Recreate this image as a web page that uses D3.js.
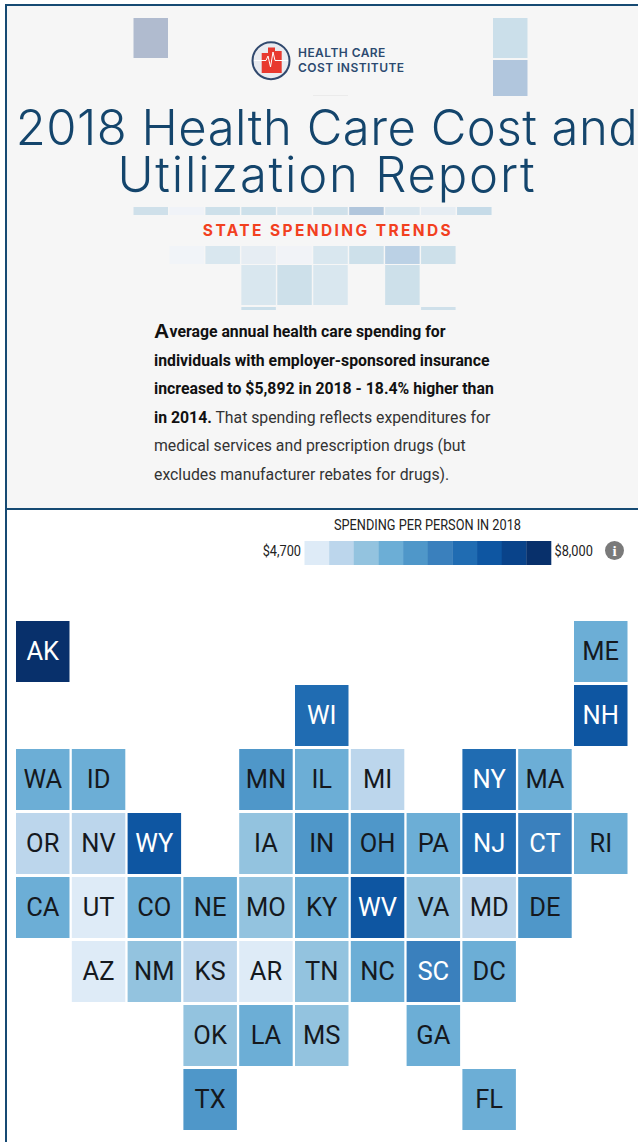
<!DOCTYPE html>
<html><head><meta charset="utf-8">
<script src="https://d3js.org/d3.v7.min.js"></script>
<style>html,body{margin:0;padding:0;background:#fff;overflow:hidden}svg{display:block}</style>
</head><body><svg id="c" width="638" height="1142"></svg>
<script>
const states=["AK","ME","WI","NH","WA","ID","MN","IL","MI","NY","MA","OR","NV","WY","IA","IN","OH","PA","NJ","CT","RI","CA","UT","CO","NE","MO","KY","WV","VA","MD","DE","AZ","NM","KS","AR","TN","NC","SC","DC","OK","LA","MS","GA","TX","FL"];
const spending=[7850,5850,6800,7150,5800,5780,6150,5830,5200,6750,5860,5150,5250,7200,5500,6200,6100,5880,6720,6500,5840,5820,4950,5800,5850,5520,5900,7250,5600,5300,6180,4900,5450,5280,5000,5560,5870,6450,5790,5470,5880,5580,5860,6120,5810];
const gridCol=[0,10,5,10,0,1,4,5,6,8,9,0,1,2,4,5,6,7,8,9,10,0,1,2,3,4,5,6,7,8,9,1,2,3,4,5,6,7,8,3,4,5,7,3,8];
const gridRow=[0,0,1,1,2,2,2,2,2,2,2,3,3,3,3,3,3,3,3,3,3,4,4,4,4,4,4,4,4,4,4,5,5,5,5,5,5,5,5,6,6,6,6,7,7];
const binColors=["#deebf7","#bcd6ec","#93c3df","#6caed6","#4f97c9","#3a80bd","#206cb2","#0e56a2","#09438a","#08306b"];
const legendLow="$4,700",legendHigh="$8,000";
const domainMin=4700,domainMax=8000;
const titleLines=["2018 Health Care Cost and","Utilization Report"];
const logoLines=["HEALTH CARE","COST INSTITUTE"];
const subtitle="STATE SPENDING TRENDS";
const legendTitle="SPENDING PER PERSON IN 2018";
const bodyLines=[[["verage annual health care spending for",1]],[["individuals with employer-sponsored insurance",1]],[["increased to $5,892 in 2018 - 18.4% higher than",1]],[["in 2014.",1],[" That spending reflects expenditures for",0]],[["medical services and prescription drugs (but",0]],[["excludes manufacturer rebates for drugs).",0]]];
// faded decorative tiles in the header
const decoCols=[0,10,10, 0,1,2,3,4,5,6,7,8,9, 1,2,3,4,5,6,7,8, 3,4,5,7, 3,8];
const decoBands=["a","a","b","c","c","c","c","c","c","c","c","c","c","d","d","d","d","d","d","d","d","e","e","e","e","f","f"];
const decoFill=["#b0bbcf","#cbdfea","#b1c6dd","#cfe0ea","#f0f3f8","#cde0ea","#cde0ea","#dae7ef","#cfe0ea","#b1c6dc","#dbe7ef","#e6edf3","#c6dbe8","#f1f4f8","#d9e7ef","#e6edf3","#f1f3f7","#d9e7ef","#cde0ea","#bbd1e5","#cde0ea","#d9e7ef","#cde0ea","#d9e7ef","#cde0ea","#cbdfea","#cfe0ea"];
const logoBars=[[261.7,53,6.3,20],[268,47.5,7,25.5],[275,51,6.7,22]];

const svg=d3.select("#c");
const navy="#164a73";
// header panel
svg.append("rect").attr("x",6).attr("y",5).attr("width",640).attr("height",504).attr("fill","#f6f6f6");
svg.append("path").attr("d","M638 5H6V1142M6 509H638").attr("fill","none").attr("stroke",navy).attr("stroke-width",2);

// deco tiles
const dx=d3.scaleLinear().domain([0,10]).range([133.5,493]);
const bandY={a:[18,40],b:[60,36],c:[207,8],d:[246,18],e:[265,40],f:[307,3]};
svg.append("g").selectAll("rect").data(decoCols).join("rect")
 .attr("x",d=>dx(d)).attr("y",(d,i)=>bandY[decoBands[i]][0])
 .attr("width",34.5).attr("height",(d,i)=>bandY[decoBands[i]][1])
 .attr("fill",(d,i)=>decoFill[i]);
svg.append("rect").attr("x",313).attr("y",95).attr("width",35).attr("height",1).attr("fill","#ebebeb");

// logo
const logo=svg.append("g");
logo.append("circle").attr("cx",271).attr("cy",60.7).attr("r",18.5).attr("fill","#e9ebf0").attr("stroke","#31496e").attr("stroke-width",2);
logo.selectAll("rect").data(logoBars).join("rect")
 .attr("x",d=>d[0]).attr("y",d=>d[1]).attr("width",d=>d[2]).attr("height",d=>d[3]).attr("fill","#e8392f");
logo.append("path").attr("d","M254 60.5H266L268 56L270.5 67L273 52L275 60.5H288").attr("fill","none").attr("stroke","#fff").attr("stroke-width",1);
logo.selectAll("text").data(logoLines).join("text").attr("x",298).attr("y",(d,i)=>i?72:57)
 .attr("font-family","Inter, Lato, sans-serif").attr("font-weight",600).attr("font-size",12).attr("fill","#2c4a70").attr("letter-spacing",.45).text(d=>d);

// title
const titleSpacing=[.5,1.8];
svg.append("g").selectAll("text").data(titleLines).join("text").attr("x",327).attr("y",(d,i)=>i?192:145)
 .attr("text-anchor","middle").attr("font-family","Inter, Lato, sans-serif").attr("font-weight",300).attr("font-size",49)
 .attr("letter-spacing",(d,i)=>titleSpacing[i]).attr("fill","#14456c").text(d=>d);

svg.append("text").attr("x",328).attr("y",236).attr("text-anchor","middle").attr("font-family","Inter, sans-serif").attr("font-weight",700)
 .attr("font-size",15.5).attr("letter-spacing",2.4).attr("fill","#f2401f").text(subtitle);

// body copy
svg.append("text").attr("x",154).attr("y",338).attr("font-family","Liberation Sans, sans-serif").attr("font-weight",700).attr("font-size",21).attr("fill","#111").text("A");
const lineY=[337,365.5,394,422.5,451,480];
bodyLines.forEach((ln,i)=>{
 const t=svg.append("text").attr("x",i?154:169.5).attr("y",lineY[i]).attr("font-family","Roboto, sans-serif").attr("font-size",15.8).attr("fill","#1c1c1c").attr("xml:space","preserve").style("white-space","pre");
 ln.forEach(s=>t.append("tspan").attr("font-weight",s[1]?700:400).attr("fill",s[1]?"#111":"#333").text(s[0]));
});

// legend
const bins=d3.range(binColors.length);
const legendX=d3.scaleBand().domain(bins).range([304.5,551]);
svg.append("g").selectAll("rect").data(bins).join("rect").attr("x",d=>legendX(d)).attr("y",541).attr("width",legendX.bandwidth()+.3).attr("height",24).attr("fill",d=>binColors[d]);
const cond=(x,y,txt,sx,anchor,size)=>svg.append("text").attr("transform",`translate(${x},${y}) scale(${sx},1)`).attr("text-anchor",anchor).attr("font-family","Roboto, sans-serif").attr("font-size",size).attr("fill","#222").text(txt);
cond(427.5,530,legendTitle,.85,"middle",15);
cond(301,556,legendLow,.85,"end",15);
cond(554.5,556,legendHigh,.85,"start",15);
svg.append("circle").attr("cx",614.5).attr("cy",550.5).attr("r",9.5).attr("fill","#7a7a7a");
svg.append("text").attr("x",614.5).attr("y",555.5).attr("text-anchor","middle").attr("font-family","Liberation Serif, serif").attr("font-weight",700).attr("font-size",15).attr("fill","#fff").text("i");

// tile map
const color=d3.scaleQuantize().domain([domainMin,domainMax]).range(binColors);
const x=d3.scaleLinear().domain([0,10]).range([16,574]);
const y=d3.scaleLinear().domain([0,7]).range([621,1069]);
const W=53.5,H=61;
const tile=svg.append("g").selectAll("g").data(states).join("g").attr("transform",(d,i)=>`translate(${x(gridCol[i])},${y(gridRow[i])})`);
tile.append("rect").attr("width",W).attr("height",H).attr("fill",(d,i)=>color(spending[i]));
tile.append("text").attr("x",W/2).attr("y",H/2+8).attr("text-anchor","middle").attr("font-family","Roboto, sans-serif").attr("font-size",25.5)
 .attr("fill",(d,i)=>spending[i]>=6350?"#fff":"#15191e").text(d=>d);
</script></body></html>
